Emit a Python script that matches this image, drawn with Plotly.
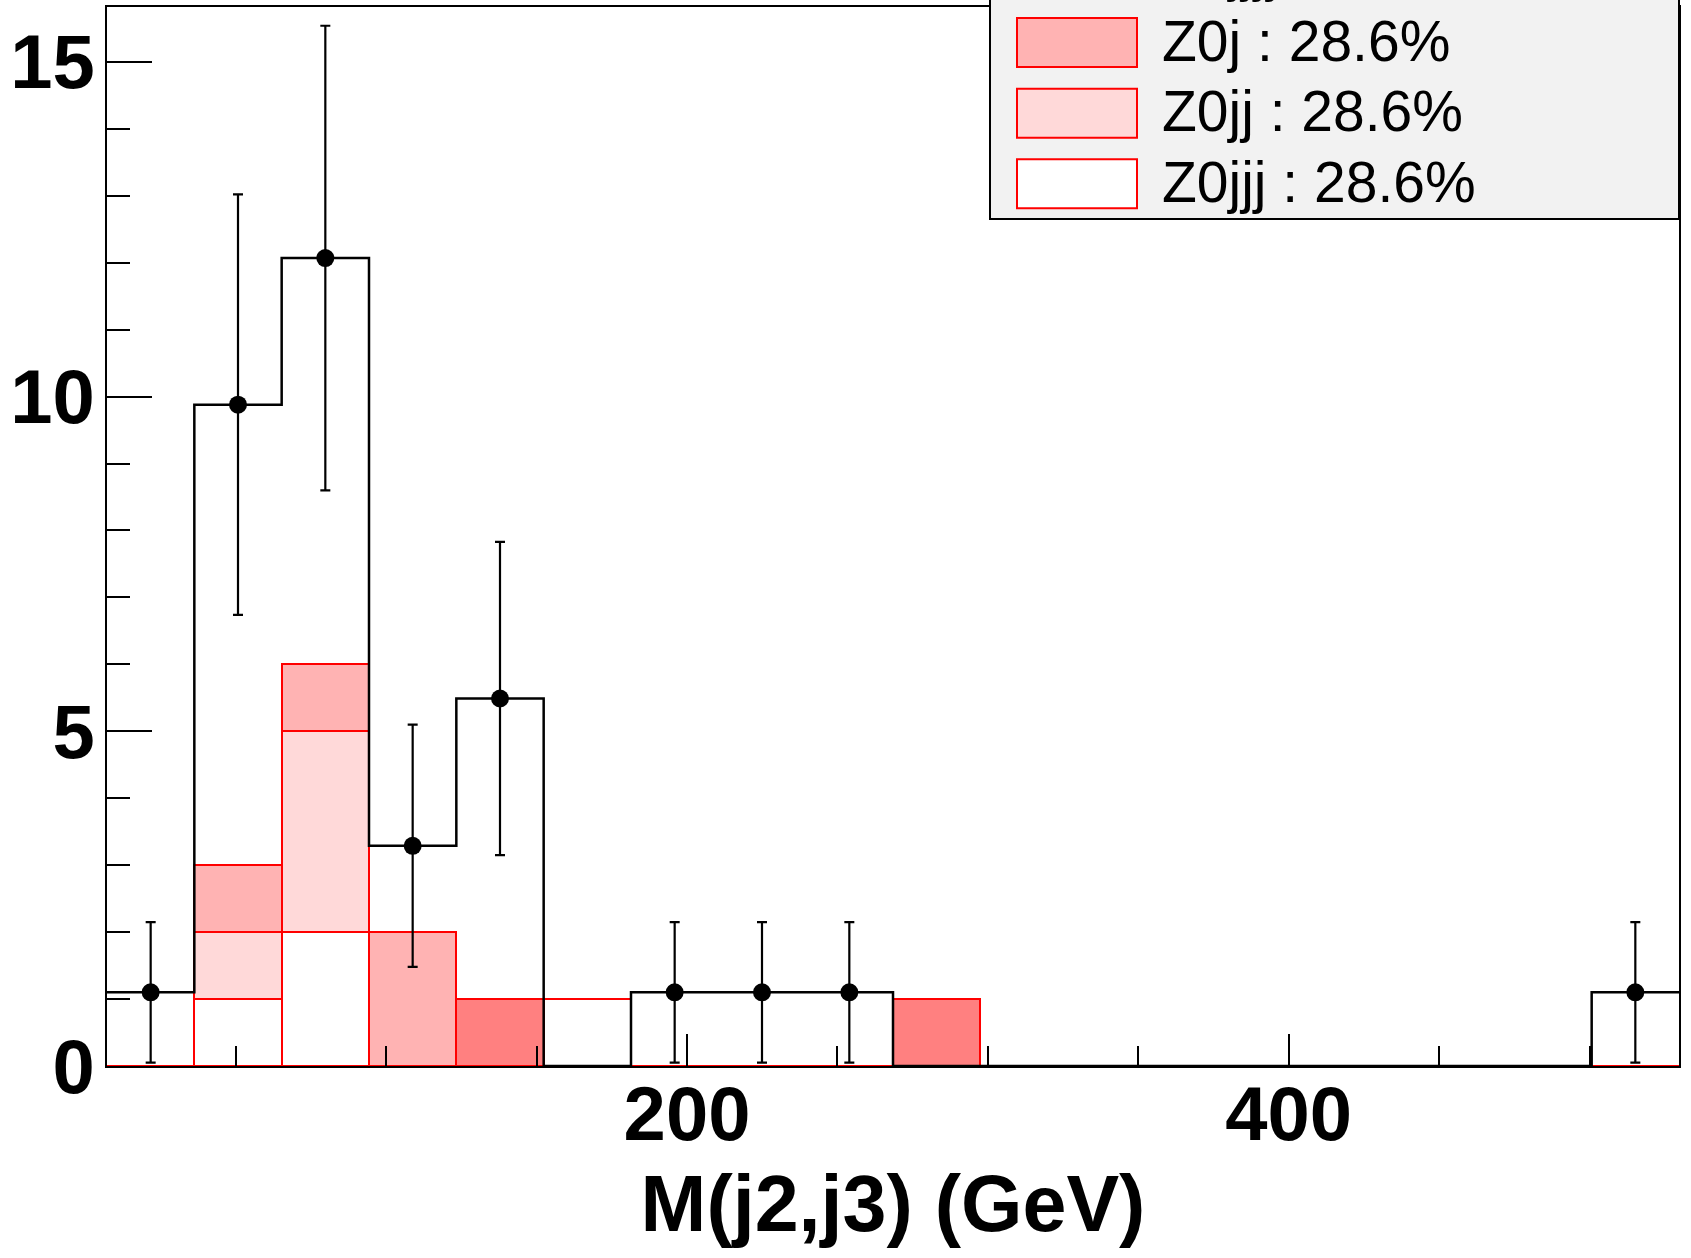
import plotly.graph_objects as go

# ---------------- data ----------------
bin_edges = [7.20, 36.23, 65.26, 94.29, 123.32, 152.35, 181.38, 210.41, 239.44,
             268.47, 297.50, 326.53, 355.56, 384.59, 413.62, 442.65, 471.68,
             500.71, 529.74]

# stacked MC components (bottom -> top)
z0jjj = [0, 1, 2, 0, 0, 1, 0, 0, 0, 0, 0, 0, 0, 0, 0, 0, 0, 0]
z0jj = [0, 1, 3, 0, 0, 0, 0, 0, 0, 0, 0, 0, 0, 0, 0, 0, 0, 0]
z0j = [0, 1, 1, 2, 0, 0, 0, 0, 0, 0, 0, 0, 0, 0, 0, 0, 0, 0]
z0jjjj = [0, 0, 0, 0, 1, 0, 0, 0, 0, 1, 0, 0, 0, 0, 0, 0, 0, 0]

# data histogram and errors
data_vals = [1.10, 9.88, 12.07, 3.29, 5.49, 0, 1.10, 1.10, 1.10,
             0, 0, 0, 0, 0, 0, 0, 0, 1.10]
data_errs = [1.05, 3.14, 3.47, 1.81, 2.34, 0, 1.05, 1.05, 1.05,
             0, 0, 0, 0, 0, 0, 0, 0, 1.05]

legend_labels = ["Z0jjjj : 14.3%", "Z0j : 28.6%", "Z0jj : 28.6%", "Z0jjj : 28.6%"]
legend_fills = ["#ff8080", "#ffb3b3", "#ffd9d9", "#ffffff"]

x_range = [bin_edges[0], bin_edges[-1]]
y_range = [0, 15.82]

# ---------------- figure ----------------
W, H = 1691, 1258
ML, MR, MT, MB = 107, 12, 7, 192
PW, PH = W - ML - MR, H - MT - MB

centers = [(bin_edges[i] + bin_edges[i + 1]) / 2 for i in range(len(bin_edges) - 1)]
widths = [bin_edges[i + 1] - bin_edges[i] for i in range(len(bin_edges) - 1)]

fig = go.Figure()

stack = [("Z0jjj", z0jjj, "#ffffff"), ("Z0jj", z0jj, "#ffd9d9"),
         ("Z0j", z0j, "#ffb3b3"), ("Z0jjjj", z0jjjj, "#ff8080")]
for name, vals, col in stack:
    fig.add_trace(go.Bar(x=centers, y=vals, width=widths, name=name,
                         marker=dict(color=col, line=dict(color="#ff0000", width=2)),
                         showlegend=False, hoverinfo="skip"))

# data as black step histogram
fig.add_trace(go.Scatter(x=bin_edges, y=data_vals + [data_vals[-1]], mode="lines",
                         line=dict(color="black", width=2.5, shape="hv"),
                         showlegend=False, hoverinfo="skip"))

# data points with error bars
px = [c for c, v in zip(centers, data_vals) if v > 0]
py = [v for v in data_vals if v > 0]
pe = [e for e, v in zip(data_errs, data_vals) if v > 0]
fig.add_trace(go.Scatter(x=px, y=py, mode="markers",
                         marker=dict(color="black", size=18),
                         error_y=dict(type="data", array=pe, color="black",
                                      thickness=2.2, width=5),
                         showlegend=False))


def paper_x(p):
    return (p - ML) / PW


def paper_y(p):
    return (H - MB - p) / PH


shapes = []
annotations = []
# legend background
shapes.append(dict(type="rect", xref="paper", yref="paper",
                   x0=paper_x(990), x1=paper_x(1679), y0=paper_y(219), y1=paper_y(-20),
                   fillcolor="#f2f2f2", line=dict(color="black", width=2), layer="above"))
row_centers = [-28.0, 42.6, 113.2, 183.8]
for lab, fill, rc in zip(legend_labels, legend_fills, row_centers):
    shapes.append(dict(type="rect", xref="paper", yref="paper",
                       x0=paper_x(1017), x1=paper_x(1137),
                       y0=paper_y(rc + 24.5), y1=paper_y(rc - 24.5),
                       fillcolor=fill, line=dict(color="#ff0000", width=2), layer="above"))
    annotations.append(dict(xref="paper", yref="paper", x=paper_x(1160), y=paper_y(rc - 2),
                            xanchor="left", yanchor="middle", showarrow=False, text=lab,
                            font=dict(family="Liberation Sans, Arial, sans-serif",
                                      size=57, color="black")))

fig.update_layout(
    width=W, height=H,
    margin=dict(l=ML, r=MR, t=MT, b=MB, pad=0, autoexpand=False),
    paper_bgcolor="white", plot_bgcolor="white",
    barmode="stack", bargap=0,
    shapes=shapes, annotations=annotations,
    showlegend=False,
)

tickfont = dict(family="Liberation Sans, Arial, sans-serif", size=76, color="black", weight="bold")

fig.update_xaxes(
    range=x_range, showline=True, linecolor="black", linewidth=2, mirror=True,
    showgrid=False, zeroline=False, automargin=False,
    ticks="inside", ticklen=32, tickwidth=2, tickcolor="black",
    tick0=0, dtick=200, tickfont=tickfont, ticklabelstandoff=-19,
    minor=dict(ticks="inside", ticklen=20, tickwidth=2, tickcolor="black", dtick=50, showgrid=False),
    title=dict(text="M(j2,j3) (GeV)", standoff=20,
               font=dict(family="Liberation Sans, Arial, sans-serif", size=79,
                         color="black", weight="bold")),
)
fig.update_yaxes(
    range=y_range, showline=True, linecolor="black", linewidth=2, mirror=True,
    showgrid=False, zeroline=False, automargin=False,
    ticks="inside", ticklen=45, tickwidth=2, tickcolor="black",
    tick0=0, dtick=5, tickfont=tickfont, ticklabelstandoff=-5,
    minor=dict(ticks="inside", ticklen=23, tickwidth=2, tickcolor="black", dtick=1, showgrid=False),
)

fig.write_html("out.html", config={"displayModeBar": False},
               post_script="document.body.style.margin='0px';")
